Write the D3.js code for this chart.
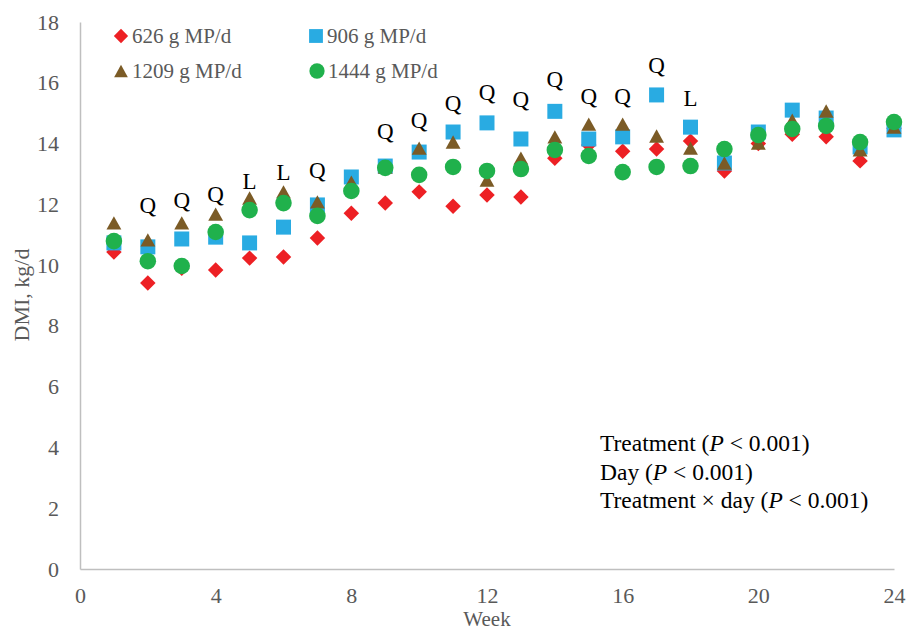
<!DOCTYPE html>
<html>
<head>
<meta charset="utf-8">
<script src="https://cdn.jsdelivr.net/npm/d3@7"></script>
<style>
  body { margin: 0; background: #fff; }
  text { font-family: "Liberation Serif", "Times New Roman", serif; }
</style>
</head>
<body>
<div id="wrapper"></div>
<script>
// weeks and DMI (kg/d) per treatment
var weeks = [1,2,3,4,5,6,7,8,9,10,11,12,13,14,15,16,17,18,19,20,21,22,23,24];
var mp626  = [10.43,9.41,9.90,9.84,10.23,10.27,10.89,11.71,12.04,12.41,11.94,12.31,12.24,13.52,13.95,13.75,13.82,14.08,13.10,14.00,14.31,14.22,13.43,14.50];
var mp906  = [10.73,10.60,10.86,10.92,10.73,11.25,11.98,12.90,13.26,13.72,14.38,14.68,14.15,15.06,14.15,14.22,15.60,14.54,13.36,14.38,15.10,14.84,13.89,14.45];
var mp1209 = [11.39,10.83,11.39,11.68,12.21,12.41,12.08,12.73,13.23,13.85,14.05,12.80,13.52,14.22,14.64,14.64,14.25,13.85,13.36,14.02,14.77,15.07,13.79,14.54];
var mp1444 = [10.79,10.13,9.97,11.09,11.81,12.04,11.62,12.44,13.20,12.97,13.23,13.10,13.16,13.79,13.59,13.06,13.23,13.26,13.82,14.28,14.48,14.58,14.05,14.71];

var seriesNames = ["626 g MP/d", "906 g MP/d", "1209 g MP/d", "1444 g MP/d"];

// contrast letters above the points
var letterWeeks = [2,3,4,5,6,7,9,10,11,12,13,14,15,16,17,18];
var letters     = ["Q","Q","Q","L","L","Q","Q","Q","Q","Q","Q","Q","Q","Q","Q","L"];
var letterY     = [11.98,12.14,12.34,12.77,13.06,13.13,14.41,14.77,15.33,15.70,15.46,16.12,15.56,15.56,16.58,15.49];

var xTicks = [0,4,8,12,16,20,24];
var yTicks = [0,2,4,6,8,10,12,14,16,18];

var statLines = [
  ["Treatment (", "P", " < 0.001)"],
  ["Day (", "P", " < 0.001)"],
  ["Treatment \u00d7 day (", "P", " < 0.001)"]
];

var dimension = {
    width: 907,
    height: 630,
    margin: { top: 22, right: 13, bottom: 61, left: 80 }
};
dimension.boundedWidth = dimension.width - dimension.margin.left - dimension.margin.right;
dimension.boundedHeight = dimension.height - dimension.margin.top - dimension.margin.bottom;

const svg = d3.select("#wrapper")
    .append("svg")
    .attr("width", dimension.width)
    .attr("height", dimension.height);

const x = d3.scaleLinear().domain([0, 24]).range([0, dimension.boundedWidth]);
const y = d3.scaleLinear().domain([0, 18]).range([dimension.boundedHeight, 0]);

const bounds = svg.append("g")
    .attr("transform", `translate(${dimension.margin.left},${dimension.margin.top})`);

// axes
const xAxis = bounds.append("g")
    .attr("transform", `translate(0,${dimension.boundedHeight})`)
    .call(d3.axisBottom(x).tickValues(xTicks).tickSize(0).tickPadding(18));
const yAxis = bounds.append("g")
    .call(d3.axisLeft(y).tickValues(yTicks).tickSize(0).tickPadding(21));

[xAxis, yAxis].forEach(a => {
    a.select(".domain").attr("stroke", "#bfbfbf").attr("stroke-width", 1.5);
    a.selectAll("text")
        .attr("fill", "#595959")
        .style("font-size", "22px")
        .style("font-family", "'Liberation Serif', serif");
});

svg.append("text")
    .attr("x", dimension.margin.left + x(12))
    .attr("y", 626)
    .attr("text-anchor", "middle")
    .attr("fill", "#595959")
    .style("font-size", "21px")
    .text("Week");

svg.append("text")
    .attr("transform", "translate(29,295) rotate(-90)")
    .attr("text-anchor", "middle")
    .attr("fill", "#595959")
    .style("font-size", "22px")
    .text("DMI, kg/d");

// markers
const triangle = {
    draw(ctx, size) {
        var w = Math.sqrt(size) * 1.05, h = w * 0.9;
        ctx.moveTo(0, -h / 2);
        ctx.lineTo(w / 2, h / 2);
        ctx.lineTo(-w / 2, h / 2);
        ctx.closePath();
    }
};
var series = [
    { name: seriesNames[0], values: mp626,  color: "#ed2024", type: d3.symbolSquare, size: 120, rot: 45 },
    { name: seriesNames[1], values: mp906,  color: "#29abe2", type: d3.symbolSquare, size: 225, rot: 0 },
    { name: seriesNames[2], values: mp1209, color: "#7b5b26", type: triangle,        size: 200, rot: 0 },
    { name: seriesNames[3], values: mp1444, color: "#20b14c", type: d3.symbolCircle, size: 215, rot: 0 }
];

series.forEach(s => {
    bounds.append("g")
        .selectAll("path")
        .data(weeks)
        .enter()
        .append("path")
        .attr("d", d3.symbol().type(s.type).size(s.size))
        .attr("fill", s.color)
        .attr("transform", (d, i) => `translate(${x(d)},${y(s.values[i])}) rotate(${s.rot})`);
});

// Q / L letters
bounds.append("g")
    .selectAll("text")
    .data(letterWeeks)
    .enter()
    .append("text")
    .attr("x", d => x(d))
    .attr("y", (d, i) => y(letterY[i]))
    .attr("dy", "0.35em")
    .attr("text-anchor", "middle")
    .attr("fill", "#000")
    .style("font-size", "23px")
    .text((d, i) => letters[i]);

// legend
var legendPos = [[121, 36], [316, 36], [121, 71], [317, 71]];
const legend = svg.append("g");
series.forEach((s, i) => {
    var p = legendPos[i];
    legend.append("path")
        .attr("d", d3.symbol().type(s.type).size(s.size * 0.85))
        .attr("fill", s.color)
        .attr("transform", `translate(${p[0]},${p[1]}) rotate(${s.rot})`);
    legend.append("text")
        .attr("x", p[0] + 11)
        .attr("y", p[1])
        .attr("dy", "0.35em")
        .attr("fill", "#595959")
        .style("font-size", "21px")
        .text(s.name);
});

// statistics
const stats = svg.append("g");
statLines.forEach((parts, i) => {
    var t = stats.append("text")
        .attr("x", 600)
        .attr("y", 451 + i * 28.5)
        .attr("fill", "#000")
        .style("font-size", "23.5px");
    t.append("tspan").text(parts[0]);
    t.append("tspan").style("font-style", "italic").text(parts[1]);
    t.append("tspan").text(parts[2]);
});
</script>
</body>
</html>
